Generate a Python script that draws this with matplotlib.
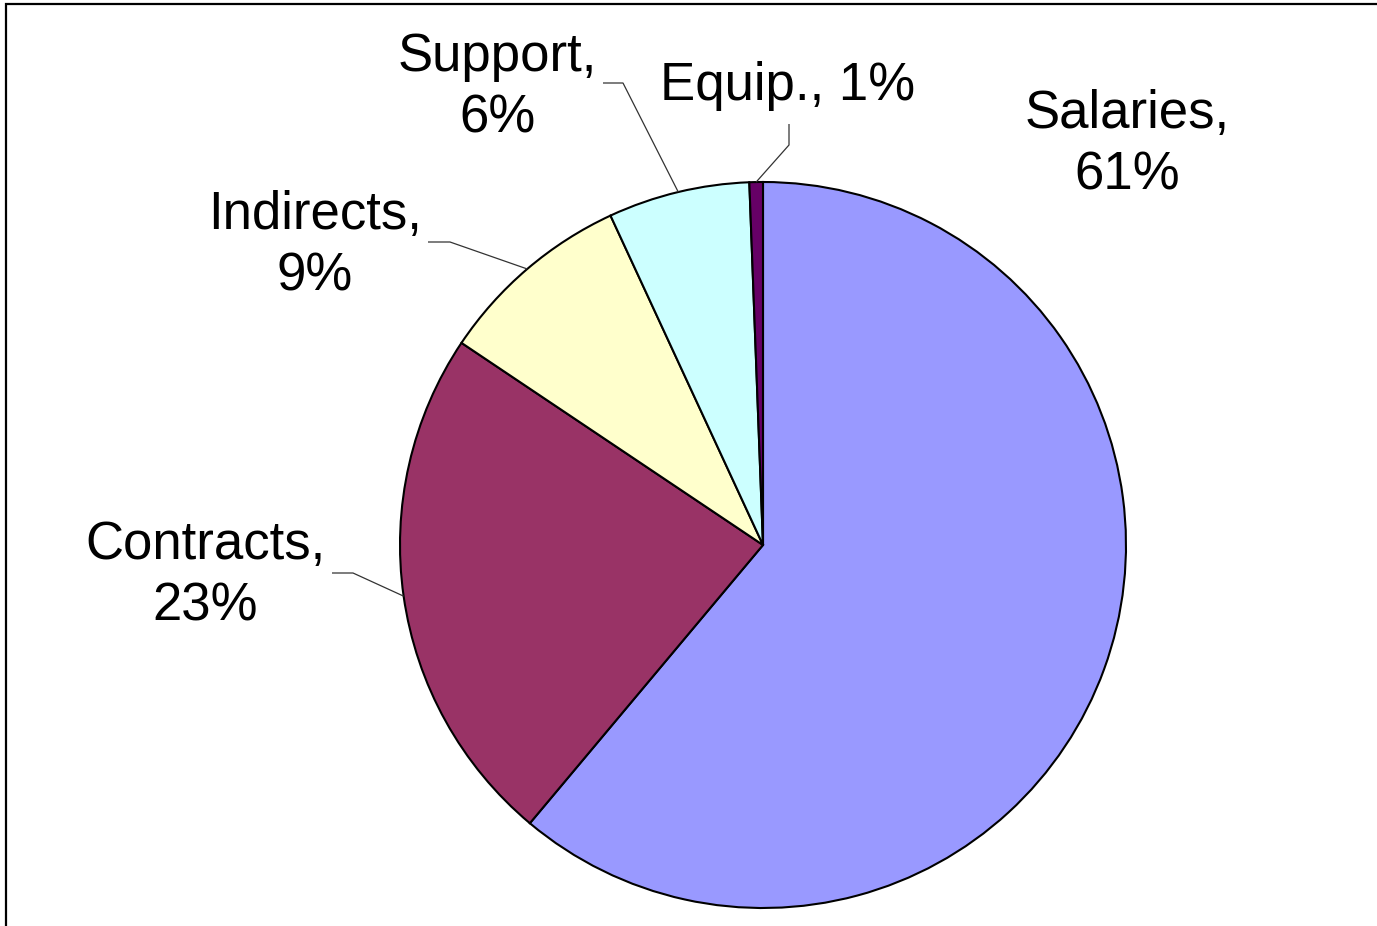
import numpy as np
import matplotlib.pyplot as plt
from matplotlib.patches import Rectangle

plt.rcParams["font.family"] = ["Liberation Sans", "DejaVu Sans"]

# 数値
categories = ["Salaries", "Contracts", "Indirects", "Support", "Equip."]
shares = [61.1, 23.3, 8.7, 6.3, 0.6]
colors = ["#9999FF", "#993366", "#FFFFCC", "#CCFFFF", "#660066"]

W, H = 1377, 926
fig = plt.figure(figsize=(W / 100, H / 100), dpi=100)
ax = fig.add_axes([0, 0, 1, 1])

cx, cy, r = 763, H - 545, 363
wedges, _ = ax.pie(
    shares,
    colors=colors,
    startangle=90,
    counterclock=False,
    center=(cx, cy),
    radius=r,
    wedgeprops=dict(edgecolor="black", linewidth=1.5),
    frame=True,
)
ax.set_xlim(0, W)
ax.set_ylim(0, H)
ax.set_aspect("equal")
ax.axis("off")

# ラベル位置（ピクセル）と引き出し線の折れ点
label_pos = [(1127, H - 145), (205, H - 576), (315, H - 246), (497, H - 88), (788, H - 86)]
elbow = [None, (353, H - 573), (450, H - 242), (623, H - 83), (789, H - 145)]
line_end = [None, (332, H - 573), (428, H - 242), (603, H - 83), (789, H - 124)]

for i, (name, v) in enumerate(zip(categories, shares)):
    sep = " " if name == "Equip." else "\n"
    ax.text(label_pos[i][0], label_pos[i][1], f"{name},{sep}{round(v)}%",
            ha="center", va="center", fontsize=38, linespacing=1.3)
    if elbow[i] is not None:
        w = wedges[i]
        mid = np.deg2rad((w.theta1 + w.theta2) / 2)
        px, py = cx + r * np.cos(mid), cy + r * np.sin(mid)
        ax.plot([px, elbow[i][0], line_end[i][0]], [py, elbow[i][1], line_end[i][1]],
                color="#333333", linewidth=0.9, solid_capstyle="butt")

# 外枠（左と上のみ見える）
fig.patches.append(Rectangle((6 / W, -0.1), 1.2, (H - 4) / H + 0.1, transform=fig.transFigure,
                             fill=False, edgecolor="black", linewidth=1.6))

fig.savefig("out.png", dpi=100)
